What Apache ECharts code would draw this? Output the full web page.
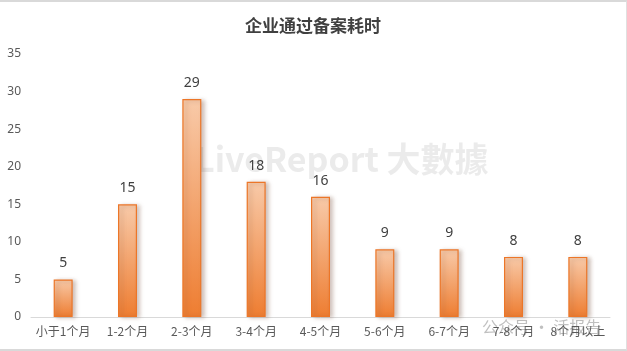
<!DOCTYPE html>
<html><head><meta charset="utf-8">
<script src="https://cdn.jsdelivr.net/npm/echarts@6/dist/echarts.min.js"></script>
<style>html,body{margin:0;padding:0;background:#fff}#c{width:627px;height:351px;box-sizing:border-box;border-top:2px solid #d9d9d9;border-bottom:2px solid #d9d9d9;border-right:1px solid #e0e0e0}</style>
</head><body><div id="c"></div>
<script>
var categories = ['小于1个月','1-2个月','2-3个月','3-4个月','4-5个月','5-6个月','6-7个月','7-8个月','8个月以上'];
var values = [5, 15, 29, 18, 16, 9, 9, 8, 8];
var yTicks = [0, 5, 10, 15, 20, 25, 30, 35];
var titleText = '企业通过备案耗时';
var chart = echarts.init(document.getElementById('c'));
chart.setOption({
  animation: false,
  title: { text: titleText, left: 'center', top: 10, textStyle: { fontSize: 17, fontWeight: 'bold', color: '#404040', fontFamily: 'Noto Sans CJK SC' } },
  graphic: [
    { type: 'text', left: 195, top: 140, style: { text: 'LiveReport 大數據', fontSize: 34, fontWeight: 'bold', fill: 'rgba(190,190,190,0.3)', fontFamily: 'Noto Sans CJK SC' } },
    { type: 'text', left: 482, top: 317, style: { text: '公众号 · 活报告', fontSize: 16, fill: 'rgba(150,150,150,0.6)', fontFamily: 'Noto Sans CJK SC' } }
  ],
  grid: { left: 31, right: 16, top: 52, bottom: 32 },
  xAxis: {
    type: 'category', data: categories,
    axisLine: { lineStyle: { color: '#d9d9d9' } },
    axisTick: { show: false },
    axisLabel: { color: '#595959', fontSize: 12, margin: 8, interval: 0, fontFamily: 'Noto Sans CJK SC' }
  },
  yAxis: {
    type: 'value', min: yTicks[0], max: yTicks[yTicks.length - 1], interval: 5,
    splitLine: { show: false },
    axisLine: { show: false }, axisTick: { show: false },
    axisLabel: { color: '#595959', fontSize: 12, margin: 10, fontFamily: 'Noto Sans' }
  },
  series: [{
    type: 'bar', data: values, barWidth: 19,
    itemStyle: {
      color: new echarts.graphic.LinearGradient(0, 0, 0, 1, [
        { offset: 0, color: '#f8caa9' }, { offset: 1, color: '#ee7d31' }
      ]),
      borderColor: '#ec7628', borderWidth: 1.2,
      shadowColor: 'rgba(120,80,60,0.35)', shadowBlur: 4, shadowOffsetX: 3, shadowOffsetY: 1
    },
    label: { show: true, position: 'top', distance: 9, color: '#404040', fontSize: 14, fontFamily: 'Noto Sans' }
  }]
});
</script></body></html>
